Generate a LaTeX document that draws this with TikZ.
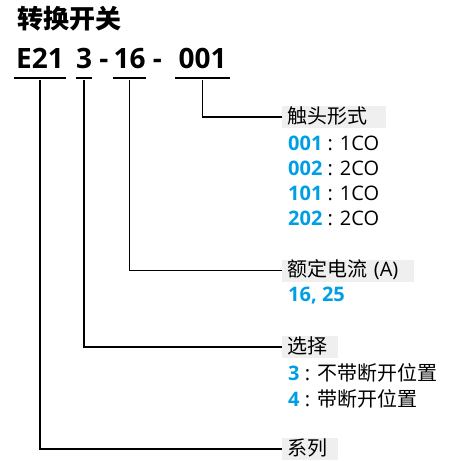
\documentclass[tikz,border=0pt]{standalone}
\usepackage{fontspec}
\setmainfont{Open Sans}
\newfontfamily\cjk{Noto Sans CJK SC}
\usepackage{tikz}
\usetikzlibrary{positioning,calc}
\usepackage{xcolor}
\definecolor{abbblue}{HTML}{009FE3}
\definecolor{tagfill}{HTML}{EFEFEF}

\begin{document}
\begin{tikzpicture}[x=1pt, y=-1pt,
    code/.style={font=\fontsize{28}{32}\selectfont\bfseries, inner sep=0pt, anchor=base},
    tag/.style={font=\fontsize{20}{24}\selectfont\cjk, fill=tagfill, inner xsep=5pt, inner ysep=0pt,
      text height=17pt, text depth=5pt, align=left, anchor=west},
    item/.style={font=\fontsize{20}{24}\selectfont, inner sep=0pt, anchor=west},
    uline/.style={line width=2pt},
    link/.style={line width=1.4pt}]
    \useasboundingbox (0,0) rectangle (459,461);
    % heading
    \node[font=\fontsize{26}{30}\selectfont\cjk\bfseries, inner sep=0pt, anchor=west] (title) at (17,19) {转换开关};
    % type code
    \node[code, minimum width=52pt] (ser) at (40,68) {E21};
    \node[code, minimum width=16pt] (sel) at (84,68) {3};
    \node[code] (d1) at (104,68) {-};
    \node[code, minimum width=29pt] (rat) at (129.5,68) {16};
    \node[code] (d2) at (157.5,68) {-};
    \node[code, minimum width=55pt] (con) at (202.5,68) {001};
    \foreach \p in {ser,sel,rat,con}
      \draw[uline] (\p.west |- 0,78) -- (\p.east |- 0,78);
    % tags
    \node[tag, text width=94pt] (tcon) at (282,117) {触头形式};
    \node[tag, text width=122pt] (trat) at (282,270.5) {额定电流 \fontspec{Open Sans}(A)};
    \node[tag, text width=46pt] (tsel) at (282,347) {选择};
    \node[tag, text width=46pt] (tser) at (282,449) {系列};
    % values
    \node[item] (c1) at (288,143) {\textcolor{abbblue}{\bfseries 001} : 1CO};
    \node[item] (c2) at (288,168) {\textcolor{abbblue}{\bfseries 002} : 2CO};
    \node[item] (c3) at (288,193) {\textcolor{abbblue}{\bfseries 101} : 1CO};
    \node[item] (c4) at (288,218) {\textcolor{abbblue}{\bfseries 202} : 2CO};
    \node[item] (r1) at (288,296) {\textcolor{abbblue}{\bfseries 16, 25}};
    \node[item] (s1) at (288,373) {\textcolor{abbblue}{\bfseries 3} : {\cjk 不带断开位置}};
    \node[item] (s2) at (288,399) {\textcolor{abbblue}{\bfseries 4} : {\cjk 带断开位置}};
    % leaders
    \draw[link] (con.south |- 0,80) |- (tcon.west);
    \draw[link] (rat.south |- 0,80) |- (trat.west);
    \draw[link] (sel.south |- 0,80) |- (tsel.west);
    \draw[link] (ser.south |- 0,80) |- (tser.west);
\end{tikzpicture}
\end{document}
